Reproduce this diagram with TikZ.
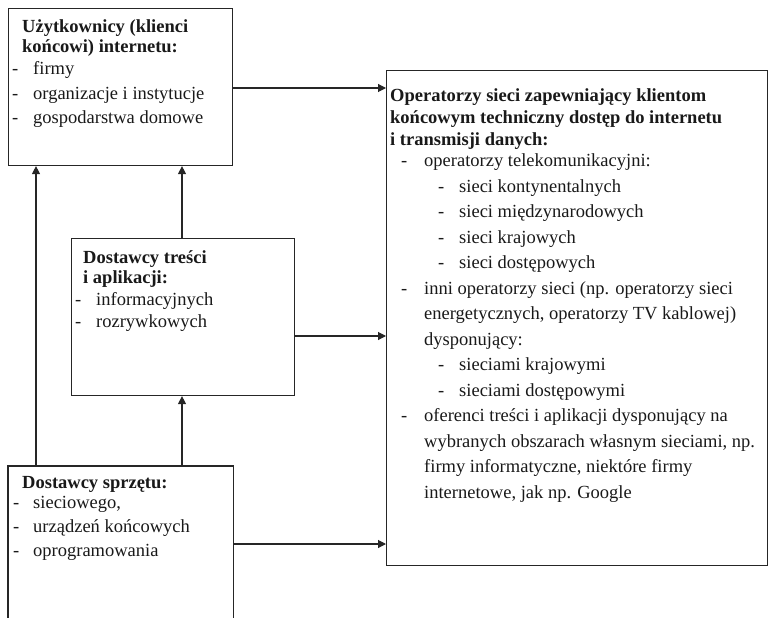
\documentclass[tikz,border=0pt]{standalone}
\usepackage{fontspec}
\setmainfont{Liberation Serif}
\usetikzlibrary{arrows.meta}
\begin{document}
\begin{tikzpicture}[x=1pt,y=-1pt,
  frame/.style={draw=black!85, line width=1.1pt},
  box/.style={frame, inner sep=0pt, anchor=north west},
  arr/.style={frame, -{Triangle[length=8pt,width=8pt]}},
  txt/.style={anchor=base west, inner sep=0pt, text=black!90,
    font=\fontsize{18.5}{22}\selectfont},
  hd/.style={txt, font=\fontsize{18.5}{22}\selectfont\bfseries}]
\useasboundingbox (0,0) rectangle (769,618);

% boxes
\node[box, minimum width=224pt, minimum height=157pt] (users) at (8,8) {};
\node[box, minimum width=381pt, minimum height=495pt] (ops) at (386,70) {};
\node[box, minimum width=223.5pt, minimum height=157pt] (content) at (70.5,238) {};
\node[box, draw=none, minimum width=224pt, minimum height=152pt] (hw) at (8,466) {};
\draw[frame] (hw.south west) -- (hw.north west) -- (hw.north east) -- (hw.south east);

% connectors
\draw[arr] ([xshift=28pt]hw.north west) -- ([xshift=28pt]users.south west);
\draw[arr] ([xshift=174pt]hw.north west) -- ([xshift=111.5pt]content.south west);
\draw[arr] ([xshift=111.5pt]content.north west) -- ([xshift=174pt]users.south west);
\draw[arr] ([yshift=-80pt]users.north east) -- ([yshift=-80pt]users.north east -| ops.west);
\draw[arr] ([yshift=-98pt]content.north east) -- ([yshift=-98pt]content.north east -| ops.west);
\draw[arr] ([yshift=-78pt]hw.north east) -- ([yshift=-78pt]hw.north east -| ops.west);

% users
\node[hd] (u-h1) at (22,33) {Użytkownicy (klienci};
\node[hd] (u-h2) at (22,52.7) {końcowi) internetu:};
\node[txt] (u-d1) at (12,75) {-};
\node[txt] (u-i1) at (33,75) {firmy};
\node[txt] (u-d2) at (12,99.5) {-};
\node[txt] (u-i2) at (33,99.5) {organizacje i instytucje};
\node[txt] (u-d3) at (12,124) {-};
\node[txt] (u-i3) at (33,124) {gospodarstwa domowe};

% content providers
\node[hd] (c-h1) at (83,263.3) {Dostawcy treści};
\node[hd] (c-h2) at (83,283.3) {i aplikacji:};
\node[txt] (c-d1) at (75,305) {-};
\node[txt] (c-i1) at (96,305) {informacyjnych};
\node[txt] (c-d2) at (75,327) {-};
\node[txt] (c-i2) at (96,327) {rozrywkowych};

% hardware providers
\node[hd] (h-h1) at (22,488.3) {Dostawcy sprzętu:};
\node[txt] (h-d1) at (13,508) {-};
\node[txt] (h-i1) at (33,508) {sieciowego,};
\node[txt] (h-d2) at (13,532) {-};
\node[txt] (h-i2) at (33,532) {urządzeń końcowych};
\node[txt] (h-d3) at (13,556) {-};
\node[txt] (h-i3) at (33,556) {oprogramowania};

% network operators
\node[hd] (o-h1) at (390,102) {Operatorzy sieci zapewniający klientom};
\node[hd] (o-h2) at (390,123.5) {końcowym techniczny dostęp do internetu};
\node[hd] (o-h3) at (390,145) {i transmisji danych:};
\node[txt] (o-d0) at (401,166.7) {-};
\node[txt] (o-l0) at (424,166.7) {operatorzy telekomunikacyjni:};
\node[txt] (o-d1) at (438,192.2) {-};
\node[txt] (o-l1) at (459,192.2) {sieci kontynentalnych};
\node[txt] (o-d2) at (438,217.7) {-};
\node[txt] (o-l2) at (459,217.7) {sieci międzynarodowych};
\node[txt] (o-d3) at (438,243.2) {-};
\node[txt] (o-l3) at (459,243.2) {sieci krajowych};
\node[txt] (o-d4) at (438,268.7) {-};
\node[txt] (o-l4) at (459,268.7) {sieci dostępowych};
\node[txt] (o-d5) at (401,294.2) {-};
\node[txt] (o-l5) at (424,294.2) {inni operatorzy sieci (np. operatorzy sieci};
\node[txt] (o-l6) at (424,319.7) {energetycznych, operatorzy TV kablowej)};
\node[txt] (o-l7) at (424,345.2) {dysponujący:};
\node[txt] (o-d8) at (438,370.7) {-};
\node[txt] (o-l8) at (459,370.7) {sieciami krajowymi};
\node[txt] (o-d9) at (438,396.2) {-};
\node[txt] (o-l9) at (459,396.2) {sieciami dostępowymi};
\node[txt] (o-d10) at (401,421.7) {-};
\node[txt] (o-l10) at (424,421.7) {oferenci treści i aplikacji dysponujący na};
\node[txt] (o-l11) at (424,447.2) {wybranych obszarach własnym sieciami, np.};
\node[txt] (o-l12) at (424,472.7) {firmy informatyczne, niektóre firmy};
\node[txt] (o-l13) at (424,498.2) {internetowe, jak np. Google};
\end{tikzpicture}
\end{document}
